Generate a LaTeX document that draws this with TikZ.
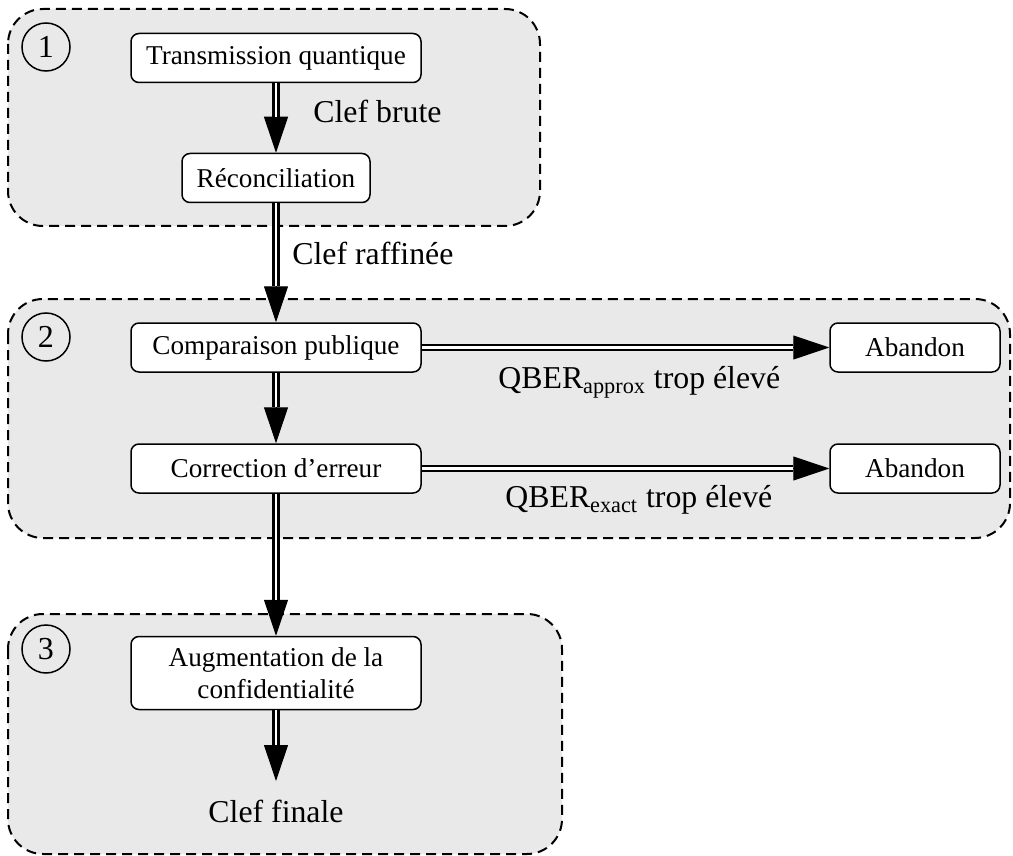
\documentclass[tikz,border=0pt]{standalone}
\usepackage{fontspec}
\setmainfont{Liberation Serif}
\usetikzlibrary{arrows.meta}
\definecolor{panelgray}{HTML}{E9E9E9}
\begin{document}
\begin{tikzpicture}[x=0.5pt,y=-0.5pt,
  phase/.style={draw=black, fill=panelgray, line width=1pt,
    dash pattern=on 5pt off 3pt, rounded corners=17.5pt},
  stepbox/.style={draw, fill=white, line width=0.75pt, rounded corners=4pt,
    inner sep=0pt, minimum width=145pt, minimum height=24.5pt,
    font=\fontsize{13.6}{16}\selectfont, align=center},
  num/.style={draw, circle, line width=0.75pt, minimum size=24pt,
    inner sep=0pt, font=\fontsize{16}{18}\selectfont},
  lbl/.style={font=\fontsize{15.9}{18}\selectfont, inner sep=0pt},
  tip/.style={-{Triangle[length=18pt,width=12pt]}, line width=0.5pt},
  shaft/.style={double=white, double distance=1.4pt, line width=1.1pt,
    shorten >=18pt}
]
\useasboundingbox (0,0) rectangle (1013,856);

% the three phases
\draw[phase] (8,9) rectangle (540,226);
\draw[phase] (8,299) rectangle (1010,538);
\draw[phase] (8,614) rectangle (562,854);

% phase numbers
\node[num] (n1) at (46,47) {1};
\node[num] (n2) at (46,337) {2};
\node[num] (n3) at (46,649) {3};

% steps
\node[stepbox] (trans) at (276,58) {Transmission quantique};
\node[stepbox, minimum width=94pt] (recon) at (276,178) {Réconciliation};
\node[stepbox] (comp) at (276,347.5) {Comparaison publique};
\node[stepbox] (corr) at (276,468.5) {Correction d’erreur};
\node[stepbox, minimum width=85pt] (ab1) at (915,347.5) {Abandon};
\node[stepbox, minimum width=85pt] (ab2) at (915,468.5) {Abandon};
\node[stepbox, minimum height=36.5pt] (aug) at (276,673)
  {Augmentation de la\\confidentialité};
\coordinate (fend) at (276,781);
\node[lbl, anchor=base] (final) at (276,822) {Clef finale};

% connector labels
\node[lbl, anchor=base west] (lb1) at (313,123) {Clef brute};
\node[lbl, anchor=base west] (lb2) at (292,264) {Clef raffinée};
\node[lbl, anchor=base west] (lb3) at (498,388) {QBER\textsubscript{approx} trop élevé};
\node[lbl, anchor=base west] (lb4) at (505,507) {QBER\textsubscript{exact} trop élevé};

% double-line connectors: a thin line with the head, then the double shaft over it
\foreach \a/\b in {trans/recon, recon/comp, comp/corr, corr/aug, aug/fend,
                   comp/ab1, corr/ab2}{
  \draw[tip] (\a) -- (\b);
  \draw[shaft] (\a) -- (\b);
}
\end{tikzpicture}
\end{document}
